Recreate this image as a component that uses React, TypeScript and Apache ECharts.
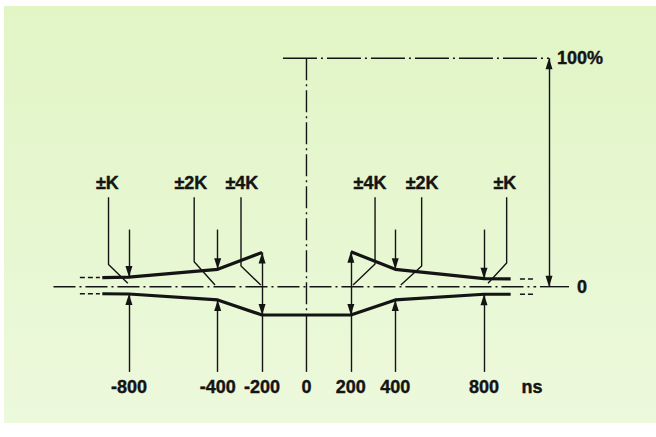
import React, { useEffect, useRef } from "react";
import * as echarts from "echarts";

// x in ns, y in % of pulse amplitude
const tickValues = [-800, -400, -200, 0, 200, 400, 800];
const upperLeft = [[-920, 4.0], [-800, 4.2], [-400, 7.6], [-200, 15.0]];
const upperRight = [[200, 15.3], [400, 7.6], [800, 3.5], [920, 3.4]];
const lowerMask = [[-920, -3.1], [-800, -3.2], [-400, -5.8], [-200, -12.4], [200, -12.4], [400, -5.8], [800, -3.3], [920, -3.3]];
const dashStubs = [
  [[-1021, 4.0], [-931, 4.0]],
  [[-1021, -3.1], [-931, -3.1]],
  [[962, 3.4], [1030, 3.4]],
  [[962, -3.3], [1030, -3.3]],
];
const baselineDashDot = [[-1140, 0], [1035, 0]];
const baselineSolid = [[1052, 0], [1183, 0]];
const fullLevel = [[-106, 100], [1093, 100]];
const centerDashDot = [[0, 100], [0, -12.4]];
const centerSolid = [[0, -12.4], [0, -37.3]];
const arrowBottom = -37.3;
const arrowTop = 25;
const leaders = [
  [[-892, 39.2], [-892, 9.7], [-805, 1.5]],
  [[-506, 39.2], [-506, 10.9], [-412, 0.7]],
  [[-295, 39.2], [-295, 9.1], [-206, 0.7]],
  [[309, 39.2], [309, 9.9], [210, 0.7]],
  [[519, 39.2], [519, 9.1], [425, 0.7]],
  [[902, 39.2], [902, 10.4], [818, 1.5]],
];
const leaderLabels = [
  { name: "±K", value: [-897, 45.3] },
  { name: "±2K", value: [-521, 45.3] },
  { name: "±4K", value: [-291, 45.3] },
  { name: "±4K", value: [286, 45.3] },
  { name: "±2K", value: [521, 45.3] },
  { name: "±K", value: [894, 45.3] },
];
const unitLabel = { name: "ns", value: [1016, -43.8] };
const tickLabelY = -43.8;
const levelArrowX = 1093;

const INK = "#141414";

export default function App() {
  const ref = useRef<HTMLDivElement>(null);
  useEffect(() => {
    if (!ref.current) return;
    const chart = echarts.init(ref.current, null, { renderer: "svg" });

    const upperAt = (x: number) => {
      const p = [...upperLeft, ...upperRight].find((d) => d[0] === x);
      return p ? p[1] : 0;
    };
    const lowerAt = (x: number) => {
      const p = lowerMask.find((d) => d[0] === x);
      return p ? p[1] : 0;
    };
    const tri = { symbol: "triangle", symbolSize: [7, 11], symbolOffset: [0, 5.5] };
    const none = { symbol: "none" };
    const arrows: any[] = [];
    [-800, -400, 400, 800].forEach((x) => {
      arrows.push([{ coord: [x, arrowBottom], ...none }, { coord: [x, lowerAt(x)], ...tri }]);
      arrows.push([{ coord: [x, arrowTop], ...none }, { coord: [x, upperAt(x)], ...tri }]);
    });
    [-200, 200].forEach((x) => {
      arrows.push([{ coord: [x, arrowBottom], ...none }, { coord: [x, lowerAt(x)], ...none }]);
      arrows.push([{ coord: [x, lowerAt(x)], ...tri }, { coord: [x, upperAt(x)], ...tri }]);
    });
    arrows.push([{ coord: [levelArrowX, 0], ...tri }, { coord: [levelArrowX, 100], ...tri }]);

    const lineSeries = (data: number[][], width: number, type: any) => ({
      type: "line",
      data,
      symbol: "none",
      silent: true,
      lineStyle: { color: INK, width, type },
      z: 3,
    });
    const dashDot = [22, 4, 2, 4];

    const textStyle = {
      fontFamily: "'Liberation Sans', Arial, sans-serif",
      fontWeight: "bold" as const,
      fontSize: 18,
      color: INK,
      textBorderColor: INK,
      textBorderWidth: 0.4,
      opacity: 1,
    };

    const series: any[] = [
      {
        ...lineSeries(upperLeft, 3.2, "solid"),
        markLine: {
          silent: true,
          animation: false,
          symbol: ["none", "none"],
          label: { show: false },
          lineStyle: { color: INK, width: 1.4, type: "solid", opacity: 1 },
          itemStyle: { color: INK },
          emphasis: { disabled: true },
          data: arrows,
        },
      },
      lineSeries(upperRight, 3.2, "solid"),
      lineSeries(lowerMask, 3.2, "solid"),
      ...dashStubs.map((d) => lineSeries(d, 1.5, [5, 3])),
      lineSeries(baselineDashDot, 1.4, dashDot),
      lineSeries(baselineSolid, 1.4, "solid"),
      lineSeries(fullLevel, 1.5, [34, 4, 2, 4]),
      lineSeries(centerDashDot, 1.4, dashDot),
      lineSeries(centerSolid, 1.4, "solid"),
      ...leaders.map((d) => lineSeries(d, 1.4, "solid")),
      {
        type: "scatter",
        symbolSize: 0,
        silent: true,
        itemStyle: { color: INK, opacity: 1 },
        data: [
          ...leaderLabels,
          ...tickValues.map((v) => ({ name: String(v), value: [v, tickLabelY] })),
          unitLabel,
        ],
        label: { show: true, position: "inside", formatter: "{b}", ...textStyle },
        z: 5,
      },
      {
        type: "scatter",
        symbolSize: 0,
        silent: true,
        itemStyle: { color: INK, opacity: 1 },
        data: [
          { name: "100%", value: [levelArrowX, 100] },
          { name: "0", value: [1183, 0] },
        ],
        label: { show: true, position: "right", distance: 8, formatter: "{b}", ...textStyle },
        z: 5,
      },
    ];

    chart.setOption({
      animation: false,
      backgroundColor: "#ffffff",
      grid: { left: 0, right: 0, top: 0, bottom: 0 },
      xAxis: { type: "value", min: -1381, max: 1575, show: false },
      yAxis: { type: "value", min: -65.8, max: 125.5, show: false },
      graphic: [
        {
          type: "rect",
          z: -10,
          silent: true,
          shape: { x: 4, y: 6, width: 652, height: 417 },
          style: {
            fill: new echarts.graphic.LinearGradient(0, 0, 0, 1, [
              { offset: 0, color: "#e1f5c5" },
              { offset: 1, color: "#ecf9dc" },
            ]),
          },
        },
      ],
      series,
    });
    return () => chart.dispose();
  }, []);
  return (
    <div
      ref={ref}
      style={{ position: "fixed", left: 0, top: 0, width: 656, height: 437 }}
    />
  );
}
